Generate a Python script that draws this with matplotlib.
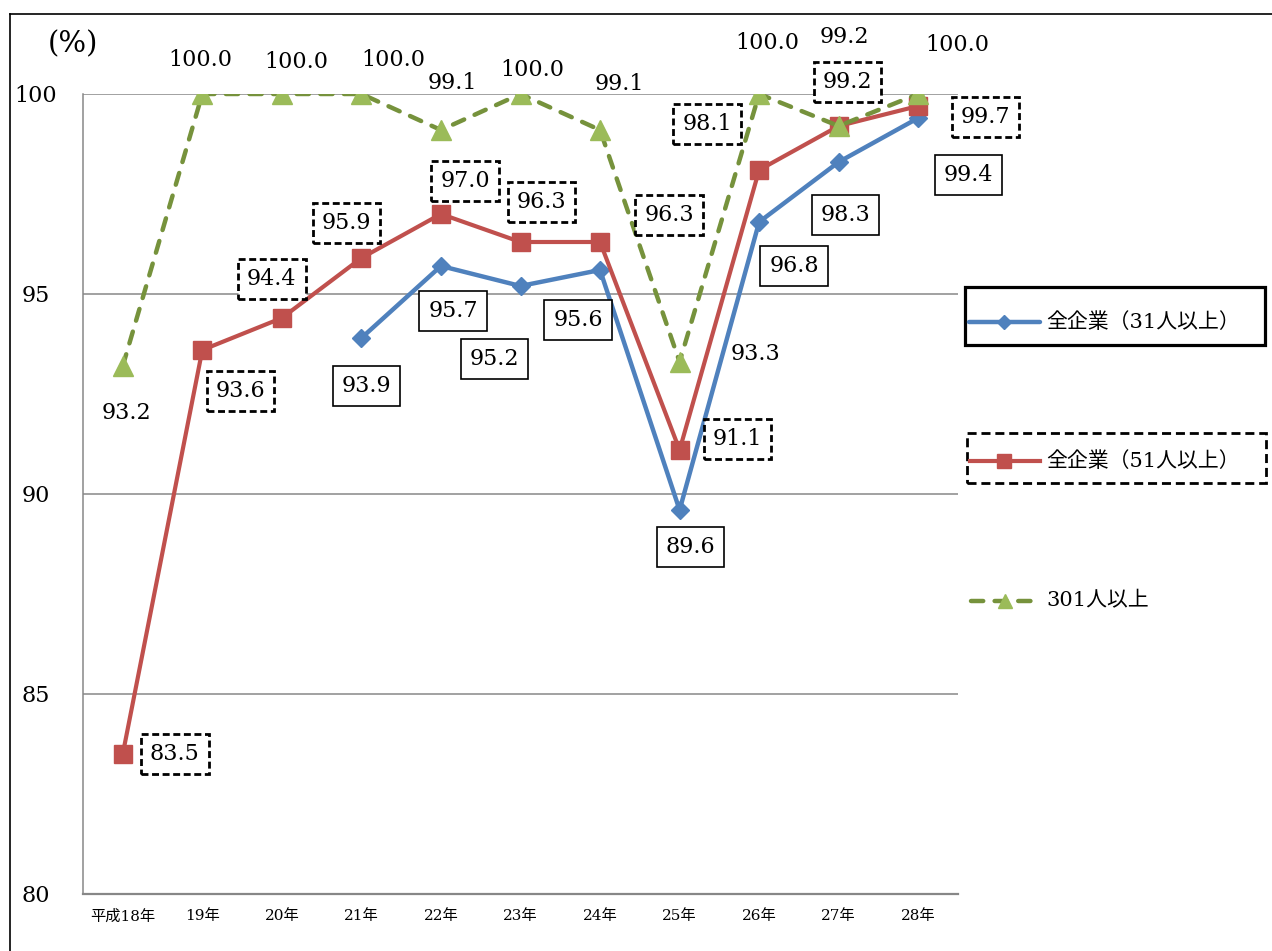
import numpy as np
import matplotlib.pyplot as plt
from matplotlib.lines import Line2D
from matplotlib.patches import Rectangle

plt.rcParams['font.family'] = ['DejaVu Serif', 'Noto Sans CJK JP']
plt.rcParams['lines.scale_dashes'] = False

# data
years = ['平成18年', '19年', '20年', '21年', '22年', '23年', '24年',
         '25年', '26年', '27年', '28年']
all31 = [np.nan, np.nan, np.nan, 93.9, 95.7, 95.2, 95.6, 89.6, 96.8, 98.3, 99.4]
all51 = [83.5, 93.6, 94.4, 95.9, 97.0, 96.3, 96.3, 91.1, 98.1, 99.2, 99.7]
over301 = [93.2, 100.0, 100.0, 100.0, 99.1, 100.0, 99.1, 93.3, 100.0, 99.2, 100.0]
names = ['全企業（31人以上）', '全企業（51人以上）', '301人以上']
yticks = [80, 85, 90, 95, 100]

# label offsets from the point, in pixels (x right, y up)
off31 = [None, None, None, (5, -48), (12, -45), (-26, -73), (-22, -50),
         (11, -37), (35, -44), (7, -53), (50, -57)]
off51 = [(52, 0), (38, -41), (-10, 39), (-15, 35), (24, 33), (21, 40),
         (69, 27), (58, 11), (-52, 46), (9, 44), (67, -11)]
off301 = [(4, -47), (-2, 34), (14, 32), (32, 34), (11, 47), (12, 24),
          (19, 46), (76, 8), (8, 51), (6, 89), (39, 49)]

BLUE = '#4F81BD'
RED = '#C0504D'
GREEN = '#76923C'
GREEN_M = '#9BBB59'
GRAY = '#878787'

W, H = 1272, 951
fig = plt.figure(figsize=(W / 100, H / 100), dpi=100)


def fx(px):
    return px / W


def fy(py):
    return 1 - py / H


ax = fig.add_axes([fx(83), fy(894), fx(958) - fx(83), fy(94) - fy(894)])
x = np.arange(len(years))

green_dash = (0, (8.8, 8.2))
ax.plot(x, all31, color=BLUE, lw=3.2, marker='D', ms=9.5, mec=BLUE, zorder=3,
        solid_capstyle='round')
ax.plot(x, all51, color=RED, lw=3, marker='s', ms=13.5, mec=RED, zorder=4)
ax.plot(x, over301, color=GREEN, lw=3.2, ls=green_dash, dash_capstyle='round',
        marker='^', ms=14, mfc=GREEN_M, mec=GREEN_M, zorder=5)

ax.set_xlim(-0.5, 10.5)
ax.set_ylim(80, 100)
ax.set_yticks(yticks)
ax.set_xticks(x)
ax.set_xticklabels(years, fontsize=11)
ax.set_yticklabels([str(v) for v in yticks], fontsize=16, ha='center')
ax.tick_params(axis='y', length=0, pad=33.8)
ax.tick_params(axis='x', length=0, pad=11)
ax.yaxis.grid(True, color=GRAY, lw=1.1)
ax.set_axisbelow(True)
for s in ['top', 'right']:
    ax.spines[s].set_visible(False)
ax.spines['left'].set_color(GRAY)
ax.spines['left'].set_linewidth(1.1)
ax.spines['bottom'].set_color(GRAY)
ax.spines['bottom'].set_linewidth(1.6)

# data labels
solid_box = dict(boxstyle='square,pad=0.4', fc='white', ec='black', lw=1.2)
dash_box = dict(boxstyle='square,pad=0.4', fc='white', ec='black', lw=2,
                ls=(0, (5, 2.6)))
for vals, offs, box in [(all31, off31, solid_box), (all51, off51, dash_box),
                        (over301, off301, None)]:
    for i, (v, o) in enumerate(zip(vals, offs)):
        if o is None or np.isnan(v):
            continue
        ax.annotate(f'{v:.1f}', (i, v), xytext=o, textcoords='offset pixels',
                    ha='center', va='center', fontsize=16, bbox=box,
                    zorder=10, annotation_clip=False)

fig.text(fx(73), fy(44), '(%)', fontsize=21, ha='center', va='center')

# legend drawn by hand
fig.add_artist(Rectangle((fx(965), fy(345)), fx(300), fy(287) - fy(345),
                         transform=fig.transFigure, fill=False, ec='black',
                         lw=2.3))
fig.add_artist(Rectangle((fx(967), fy(483)), fx(299), fy(433) - fy(483),
                         transform=fig.transFigure, fill=False, ec='black',
                         lw=2, ls=(0, (6.5, 3.5))))
leg_y = [322, 461, 601]
fig.add_artist(Line2D([fx(969), fx(1040)], [fy(leg_y[0])] * 2, color=BLUE,
                      lw=3.2, solid_capstyle='round'))
fig.add_artist(Line2D([fx(1004)], [fy(leg_y[0])], marker='D', ms=7.5,
                      color=BLUE))
fig.add_artist(Line2D([fx(970), fx(1040)], [fy(leg_y[1])] * 2, color=RED,
                      lw=3))
fig.add_artist(Line2D([fx(1004)], [fy(leg_y[1])], marker='s', ms=10.5,
                      color=RED))
fig.add_artist(Line2D([fx(971), fx(1033)], [fy(leg_y[2])] * 2, color=GREEN,
                      lw=3.2, ls=(0, (8.8, 8.2)), dash_capstyle='round'))
fig.add_artist(Line2D([fx(1005)], [fy(leg_y[2])], marker='^', ms=10.5,
                      color=GREEN_M))
for name, ly in zip(names, leg_y):
    fig.text(fx(1046), fy(ly), name, fontsize=15, ha='left', va='center',
             family=['DejaVu Serif', 'Noto Sans CJK JP'])

# outer frame of the chart area
fig.add_artist(Line2D([fx(10), fx(10)], [0, fy(14)], color='black', lw=1.2))
fig.add_artist(Line2D([fx(10), 1], [fy(14), fy(14)], color='black', lw=1.2))

fig.savefig('out.png', dpi=100)
